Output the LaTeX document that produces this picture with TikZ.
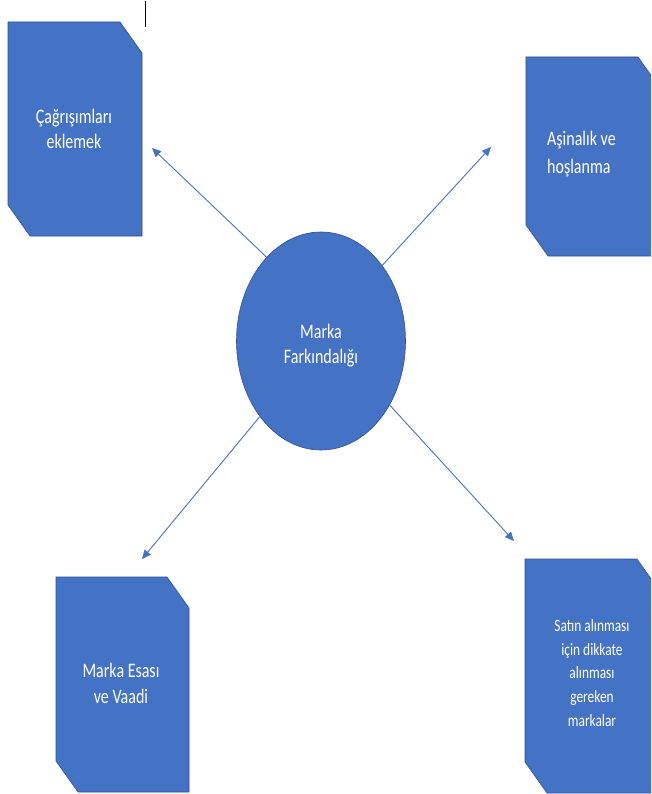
\documentclass[tikz,border=0pt]{standalone}
\usepackage{fontspec}
\setmainfont{Carlito}
\usepackage{graphicx}
\usetikzlibrary{arrows.meta,shapes.geometric}

\definecolor{officeblue}{HTML}{4472C4}
\definecolor{officeedge}{HTML}{2F528F}

% text block stretched vertically like the rest of the drawing
\newcommand{\tallc}[3]{\scalebox{1}[1.29]{\fontsize{#1}{#2}\selectfont\begin{tabular}{@{}c@{}}#3\end{tabular}}}
\newcommand{\talll}[3]{\scalebox{1}[1.29]{\fontsize{#1}{#2}\selectfont\begin{tabular}{@{}l@{}}#3\end{tabular}}}

% box with top-right and bottom-left corners snipped
\newcommand{\snipbox}[4]{%
  \path[panel] (#1,#2) -- (#3-22,#2) -- (#3,#2+31) -- (#3,#4) -- (#1+22,#4) -- (#1,#4-31) -- cycle;}

\tikzset{
  panel/.style={fill=officeblue, draw=officeedge, line width=0.6pt},
  hub/.style={ellipse, fill=officeblue, draw=officeedge, line width=0.6pt,
              minimum width=169pt, minimum height=218pt, inner sep=0pt},
  label/.style={text=white, inner sep=0pt},
  link/.style={draw=officeblue, line width=0.9pt,
               -{Triangle[length=9pt,width=8pt]}},
}

\begin{document}
\begin{tikzpicture}[x=1pt, y=-1pt]
  \useasboundingbox (0,0) rectangle (651,794);
  \clip (0,0) rectangle (651,794);
  \fill[white] (0,0) rectangle (651,794);

  % the four outer panels
  \snipbox{8}{22}{142}{236}
  \snipbox{526}{57}{660}{256}
  \snipbox{56}{577}{189}{792}
  \snipbox{525}{559}{659}{793}

  % central ellipse
  \node[hub] (hub) at (321,341) {};
  \node[label] (hubtext) at (321,346) {\tallc{16}{19.4}{Marka\\Farkındalığı}};

  % panel labels
  \node[label] (cagri) at (74,131) {\tallc{16}{19.4}{Çağrışımları\\eklemek}};
  \node[label, anchor=west] (asina) at (547,154) {\talll{16}{21.7}{Aşinalık ve\\hoşlanma}};
  \node[label] (esas) at (121,685) {\tallc{16}{20.2}{Marka Esası\\ve Vaadi}};
  \node[label] (satin) at (592,674) {\tallc{13.4}{18.4}{Satın alınması\\için dikkate\\alınması\\gereken\\markalar}};

  % arrow ends
  \coordinate (tlend) at (152,148);
  \coordinate (trend) at (491,147);
  \coordinate (blend) at (142,559);
  \coordinate (brend) at (514,541);

  \draw[link] (hub.123.7) -- (tlend);
  \draw[link] (hub.51.3) -- (trend);
  \draw[link] (hub.231.4) -- (blend);
  \draw[link] (hub.-43) -- (brend);

  % short black mark at the top
  \coordinate (marktop) at (145,1);
  \coordinate (markbot) at (145,27);
  \draw[black, line width=1pt] (marktop) -- (markbot);
\end{tikzpicture}
\end{document}
